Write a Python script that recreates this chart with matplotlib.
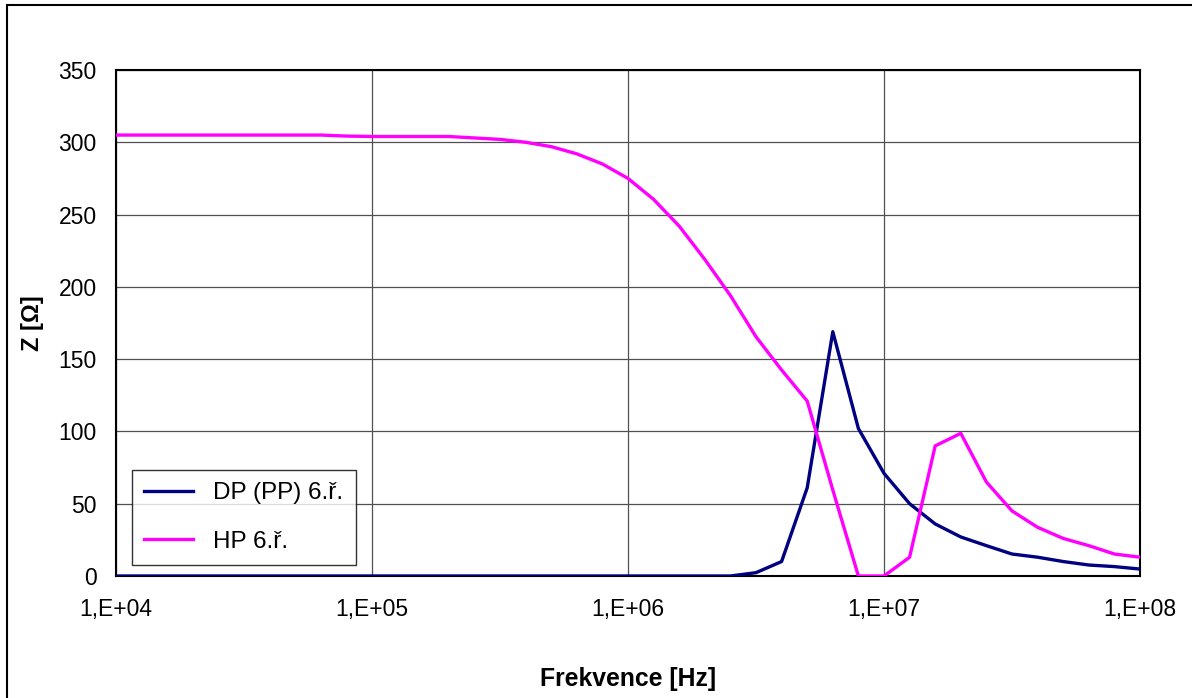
import matplotlib
matplotlib.use("Agg")
import matplotlib.pyplot as plt
from matplotlib.patches import Rectangle

plt.rcParams['font.family'] = ['Liberation Sans', 'DejaVu Sans']

# frequency points, 10 per decade (Hz)
freq = [1.0e4, 1.259e4, 1.585e4, 1.995e4, 2.512e4, 3.162e4, 3.981e4, 5.012e4, 6.310e4, 7.943e4,
        1.0e5, 1.259e5, 1.585e5, 1.995e5, 2.512e5, 3.162e5, 3.981e5, 5.012e5, 6.310e5, 7.943e5,
        1.0e6, 1.259e6, 1.585e6, 1.995e6, 2.512e6, 3.162e6, 3.981e6, 5.012e6, 6.310e6, 7.943e6,
        1.0e7, 1.259e7, 1.585e7, 1.995e7, 2.512e7, 3.162e7, 3.981e7, 5.012e7, 6.310e7, 7.943e7,
        1.0e8]

# low pass (DP / PP) 6th order impedance
z_dp = [0, 0, 0, 0, 0, 0, 0, 0, 0, 0,
        0, 0, 0, 0, 0, 0, 0, 0, 0, 0,
        0, 0, 0, 0, 0, 2.3, 10, 61, 169, 102,
        71, 50, 36, 27, 21, 15.2, 13, 10, 7.6, 6.5,
        4.8]

# high pass (HP) 6th order impedance
z_hp = [305, 305, 305, 305, 305, 305, 305, 305, 305, 304.3,
        304, 304, 304, 304, 303, 302, 300, 297, 292, 285,
        275, 260.5, 242, 219, 194, 165.5, 142.5, 121, 59.5, 0,
        0, 13, 90, 98.7, 65, 45, 33.7, 26, 21, 15.2,
        13]

x_ticks = [1e4, 1e5, 1e6, 1e7, 1e8]
x_labels = ["1,E+04", "1,E+05", "1,E+06", "1,E+07", "1,E+08"]
y_ticks = [0, 50, 100, 150, 200, 250, 300, 350]

W, H = 1192, 698
fig = plt.figure(figsize=(W / 100, H / 100), dpi=100)
fig.patch.set_facecolor('white')

# outer frame (chart area border, cut at right/bottom)
fig.patches.append(Rectangle((7 / W, -0.1), 1.2, 1 - 5 / H + 0.1, transform=fig.transFigure,
                             fill=False, edgecolor='black', linewidth=1.5))

ax = fig.add_axes([116 / W, (H - 576) / H, 1024 / W, 506 / H])
ax.plot(freq, z_dp, color='#000080', linewidth=2.4, label='DP (PP) 6.ř.', zorder=3)
ax.plot(freq, z_hp, color='#FF00FF', linewidth=2.4, label='HP 6.ř.', zorder=3)

ax.set_xscale('log')
ax.set_xlim(1e4, 1e8)
ax.set_ylim(0, 350)
ax.set_xticks(x_ticks)
ax.set_xticklabels(x_labels)
ax.minorticks_off()
ax.set_yticks(y_ticks)
ax.tick_params(axis='both', length=0, labelsize=16.5)
ax.tick_params(axis='x', pad=16)
ax.tick_params(axis='y', pad=14)
ax.grid(True, color='#505050', linewidth=0.9)
ax.set_axisbelow(True)
for s in ax.spines.values():
    s.set_linewidth(1.5)
    s.set_color('black')

ax.set_xlabel('Frekvence [Hz]', fontsize=17.8, fontweight='bold', labelpad=33)
ax.set_ylabel('Z [Ω]', fontsize=17, fontweight='bold', labelpad=10)

leg = ax.legend(loc='lower left', bbox_to_anchor=(16 / 1024, 11 / 506), fontsize=17.5,
                frameon=True, fancybox=False, shadow=False, borderpad=0.5,
                handlelength=2.0, handletextpad=0.85, labelspacing=1.1, borderaxespad=0)
leg.get_frame().set_edgecolor('black')
leg.get_frame().set_linewidth(1.0)

fig.savefig('out.png', dpi=100)
